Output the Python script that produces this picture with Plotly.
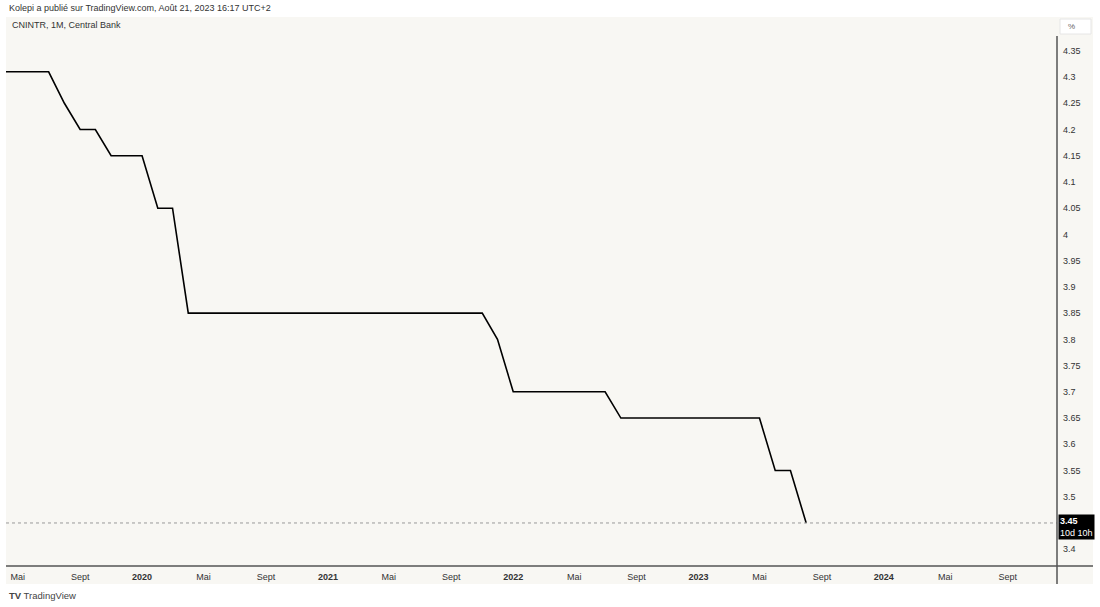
import pandas as pd
import plotly.graph_objects as go

# ---- data (China 1Y loan prime rate, monthly closes) ----
start_month = "2019-04-01"
rates = [
    4.31, 4.31, 4.31, 4.31, 4.25, 4.20, 4.20, 4.15, 4.15,            # 2019 Apr-Dec
    4.15, 4.05, 4.05, 3.85, 3.85, 3.85, 3.85, 3.85, 3.85, 3.85, 3.85, 3.85,  # 2020
    3.85, 3.85, 3.85, 3.85, 3.85, 3.85, 3.85, 3.85, 3.85, 3.85, 3.85, 3.80,  # 2021
    3.70, 3.70, 3.70, 3.70, 3.70, 3.70, 3.70, 3.65, 3.65, 3.65, 3.65, 3.65,  # 2022
    3.65, 3.65, 3.65, 3.65, 3.65, 3.55, 3.55, 3.45,                  # 2023 Jan-Aug
]
dates = pd.date_range(start_month, periods=len(rates), freq="MS")
last_value = rates[-1]

x_tick_dates = ["2019-05-01", "2019-09-01", "2020-01-01", "2020-05-01", "2020-09-01",
                "2021-01-01", "2021-05-01", "2021-09-01", "2022-01-01", "2022-05-01",
                "2022-09-01", "2023-01-01", "2023-05-01", "2023-09-01", "2024-01-01",
                "2024-05-01", "2024-09-01"]
x_tick_labels = ["Mai", "Sept", "<b>2020</b>", "Mai", "Sept", "<b>2021</b>", "Mai", "Sept",
                 "<b>2022</b>", "Mai", "Sept", "<b>2023</b>", "Mai", "Sept", "<b>2024</b>",
                 "Mai", "Sept"]

y_tick_vals = [3.4, 3.5, 3.55, 3.6, 3.65, 3.7, 3.75, 3.8, 3.85, 3.9, 3.95,
               4.0, 4.05, 4.1, 4.15, 4.2, 4.25, 4.3, 4.35]
y_tick_labels = ["3.4", "3.5", "3.55", "3.6", "3.65", "3.7", "3.75", "3.8", "3.85", "3.9", "3.95",
                 "4", "4.05", "4.1", "4.15", "4.2", "4.25", "4.3", "4.35"]

FONT = "Liberation Sans"
BG = "#f8f7f3"
TXT = "#333333"

fig = go.Figure()
fig.add_trace(go.Scatter(x=dates, y=rates, mode="lines",
                         line=dict(color="#000000", width=1.6), hoverinfo="x+y"))

W, H = 1100, 607
L, R, T, B = 6, 1057, 17, 566


def px(X):
    return (X - L) / (R - L)


def py(Y):
    return (B - Y) / (B - T)


shapes = [
    # chart frame background (plot + axes area)
    dict(type="rect", xref="paper", yref="paper", x0=px(6), x1=px(1093), y0=py(584), y1=py(17),
         fillcolor=BG, line=dict(width=0), layer="below"),
    # last value dotted line
    dict(type="line", xref="paper", yref="y", x0=0, x1=1, y0=last_value, y1=last_value,
         line=dict(color="#9a9a9a", width=1, dash="dot")),
    # price axis border
    dict(type="line", xref="paper", yref="paper", x0=1, x1=1, y0=py(584), y1=py(36),
         line=dict(color="#555555", width=1.5)),
    # time axis border
    dict(type="line", xref="paper", yref="paper", x0=0, x1=px(1093), y0=0, y1=0,
         line=dict(color="#555555", width=1.5)),
    # % box
    dict(type="rect", xref="paper", yref="paper", x0=px(1060), x1=px(1091), y0=py(34), y1=py(19),
         fillcolor="#ffffff", line=dict(color="#e6e6e6", width=1)),
]

annotations = [
    dict(text="Kolepi a publié sur TradingView.com, Août 21, 2023 16:17 UTC+2",
         xref="paper", yref="paper", x=px(7), y=py(8), xanchor="left", yanchor="middle",
         showarrow=False, font=dict(family=FONT, size=9, color=TXT)),
    dict(text="CNINTR, 1M, Central Bank",
         xref="paper", yref="paper", x=px(10), y=py(25), xanchor="left", yanchor="middle",
         showarrow=False, font=dict(family=FONT, size=9, color=TXT)),
    dict(text="%", xref="paper", yref="paper", x=px(1066), y=py(26.5), xanchor="left",
         yanchor="middle", showarrow=False, font=dict(family=FONT, size=8, color="#666666")),
    dict(text="<b>3.45</b><br>10d 10h", xref="paper", yref="y", x=px(1058), y=last_value,
         xanchor="left", yanchor="middle", yshift=-4, align="left", showarrow=False,
         bgcolor="#000000", borderpad=1,
         font=dict(family=FONT, size=9, color="#ffffff")),
    dict(text="<b>TV</b> TradingView", xref="paper", yref="paper", x=px(7), y=py(595),
         xanchor="left", yanchor="middle", showarrow=False,
         font=dict(family=FONT, size=9.5, color="#444444")),
]

fig.update_layout(
    width=W, height=H,
    margin=dict(l=L, r=W - R, t=T, b=H - B),
    paper_bgcolor="#ffffff",
    plot_bgcolor=BG,
    showlegend=False,
    shapes=shapes,
    annotations=annotations,
    xaxis=dict(type="date", range=["2019-04-08", "2024-12-07"],
               tickvals=x_tick_dates, ticktext=x_tick_labels,
               showgrid=False, zeroline=False, showline=False, ticks="",
               ticklabelstandoff=4,
               tickfont=dict(family=FONT, size=9, color=TXT)),
    yaxis=dict(side="right", range=[3.368, 4.4144],
               tickvals=y_tick_vals, ticktext=y_tick_labels,
               showgrid=False, zeroline=False, showline=False, ticks="",
               ticklabelstandoff=5,
               tickfont=dict(family=FONT, size=9, color=TXT)),
)

fig.write_html("out.html", config={"displayModeBar": False},
               post_script="document.body.style.margin='0px';document.body.style.overflow='hidden';")
